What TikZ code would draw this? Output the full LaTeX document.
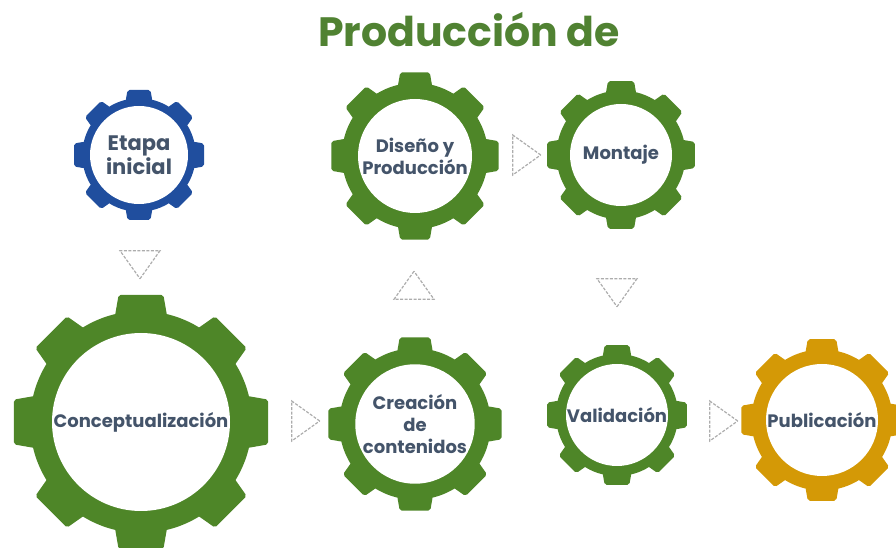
\documentclass[tikz,border=0pt]{standalone}
\usepackage{fontspec}
\setmainfont{Poppins}
\usetikzlibrary{shapes.geometric}

\definecolor{gearGreen}{RGB}{78,134,40}
\definecolor{gearBlue}{RGB}{32,78,158}
\definecolor{gearGold}{RGB}{212,153,6}
\definecolor{labelInk}{RGB}{68,84,106}
\definecolor{titleGreen}{RGB}{80,130,50}

% gear: [node options] name, centre, tip radius, hole radius, colour, label
\newcommand{\gearnode}[7][]{%
  \fill[#6] #3 circle [radius=0.86*#4];
  \foreach \a in {0,45,...,315}
    \fill[#6, shift={#3}, rotate=\a, rounded corners=2] ({14}:{0.84*#4}) -- ({10}:{#4}) -- ({-10}:{#4}) -- ({-14}:{0.84*#4}) -- cycle;
  \node[hub, minimum size=2*#5, #1] (#2) at #3 {#7};
}

\begin{document}
\begin{tikzpicture}[x=1pt, y=1pt,
    hub/.style={circle, fill=white, inner sep=0pt, align=center, text=labelInk, font=\bfseries\fontsize{18}{22}\selectfont},
    flow/.style={isosceles triangle, isosceles triangle stretches, draw=gray!65, line width=1.2pt, dash pattern=on 3pt off 1.5pt, minimum width=40, minimum height=28, inner sep=0pt}]
    \useasboundingbox (0,0) rectangle (896,548);

    \node[font=\bfseries\fontsize{41}{49}\selectfont, text=titleGreen, anchor=base] (title) at (469,501) {Producción de};

    \gearnode[font=\bfseries\fontsize{21}{24}\selectfont]{etapa}{(139,393)}{66}{49}{gearBlue}{Etapa\\inicial}
    \gearnode{concepto}{(141,126)}{129}{89}{gearGreen}{Conceptualización}
    \gearnode{creacion}{(415,124)}{88}{57}{gearGreen}{Creación\\de\\contenidos}
    \gearnode{diseno}{(415,392)}{85}{57}{gearGreen}{Diseño y\\Producción}
    \gearnode{montaje}{(621,393)}{75}{51}{gearGreen}{Montaje}
    \gearnode{validacion}{(617,133)}{71}{51}{gearGreen}{Validación}
    \gearnode{publicacion}{(822,128)}{82}{56}{gearGold}{Publicación}

    \node[flow, rotate=-90] (p1) at (140,287) {};
    \node[flow] (p2) at (302,127) {};
    \node[flow, rotate=90] (p3) at (414,259) {};
    \node[flow] (p4) at (523,393) {};
    \node[flow, rotate=-90] (p5) at (617,259) {};
    \node[flow] (p6) at (720,127) {};
\end{tikzpicture}
\end{document}
